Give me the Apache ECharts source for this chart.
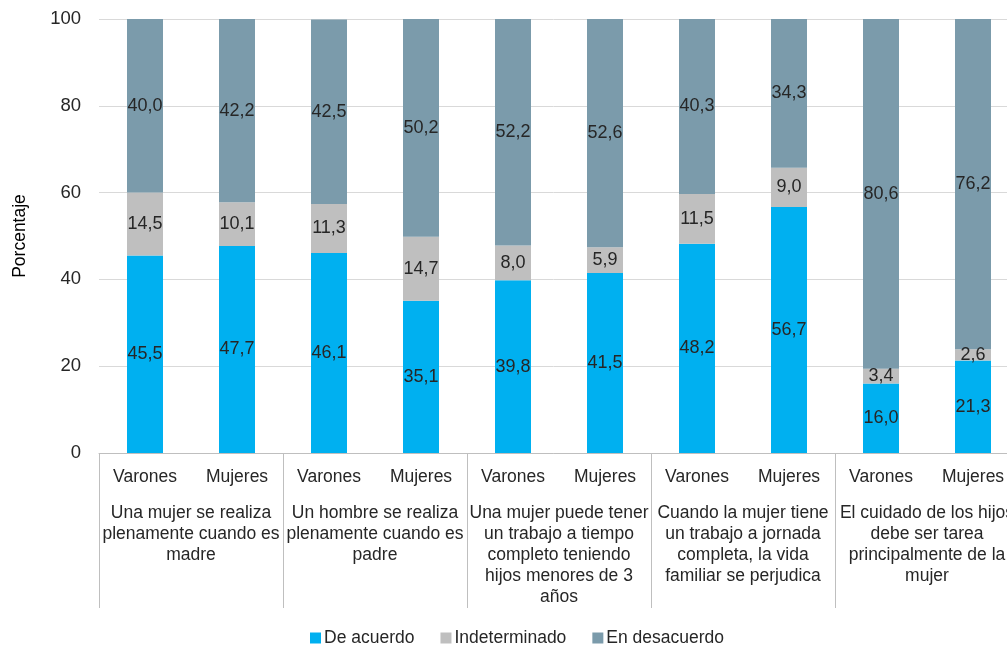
<!DOCTYPE html>
<html>
<head>
<meta charset="utf-8">
<script src="https://cdn.jsdelivr.net/npm/echarts@6/dist/echarts.min.js"></script>
<style>
  html, body { margin: 0; padding: 0; background: #fff; }
  #chart { width: 1007px; height: 646px; }
</style>
</head>
<body>
<div id="chart"></div>
<script>
const sexos = ['Varones', 'Mujeres', 'Varones', 'Mujeres', 'Varones', 'Mujeres', 'Varones', 'Mujeres', 'Varones', 'Mujeres']
const grupos = [
  'Una mujer se realiza\nplenamente cuando es\nmadre',
  'Un hombre se realiza\nplenamente cuando es\npadre',
  'Una mujer puede tener\nun trabajo a tiempo\ncompleto teniendo\nhijos menores de 3\naños',
  'Cuando la mujer tiene\nun trabajo a jornada\ncompleta, la vida\nfamiliar se perjudica',
  'El cuidado de los hijos\ndebe ser tarea\nprincipalmente de la\nmujer'
]
const deAcuerdo = [45.5, 47.7, 46.1, 35.1, 39.8, 41.5, 48.2, 56.7, 16.0, 21.3]
const indeterminado = [14.5, 10.1, 11.3, 14.7, 8.0, 5.9, 11.5, 9.0, 3.4, 2.6]
const enDesacuerdo = [40.0, 42.2, 42.5, 50.2, 52.2, 52.6, 40.3, 34.3, 80.6, 76.2]

const font = 'Liberation Sans, Arial, sans-serif'
const txt = '#262626'

const chart = echarts.init(document.getElementById('chart'))

const barLabel = {
  show: true,
  position: 'inside',
  color: txt,
  fontSize: 18,
  fontFamily: font,
  formatter: p => p.value.toFixed(1).replace('.', ',')
}

const mkSeries = (name, data, color) => ({
  name,
  type: 'bar',
  stack: 'total',
  data,
  barWidth: 36,
  xAxisIndex: 0,
  itemStyle: { color },
  label: barLabel,
  emphasis: { disabled: true }
})

chart.setOption({
  animation: false,
  textStyle: { fontFamily: font },
  // plot runs past the right edge, as in the source
  grid: { left: 99, top: 19, bottom: 193, width: 920, outerBoundsMode: 'none', containLabel: false },
  legend: {
    top: 624,
    left: 305,
    itemWidth: 11,
    itemHeight: 11,
    itemGap: 26,
    icon: 'rect',
    textStyle: { fontSize: 17.5, color: txt, fontFamily: font, padding: [0, 0, 0, -2] },
    data: ['De acuerdo', 'Indeterminado', 'En desacuerdo']
  },
  xAxis: [
    {
      type: 'category',
      data: sexos,
      position: 'bottom',
      axisLine: { show: true, lineStyle: { color: '#BFBFBF' } },
      axisTick: { show: false },
      axisLabel: { interval: 0, margin: 15, fontSize: 17.5, color: txt, fontFamily: font }
    },
    {
      type: 'category',
      data: grupos,
      position: 'bottom',
      axisLine: { show: false },
      axisTick: { show: true, length: 155, interval: 0, inside: false, lineStyle: { color: '#BFBFBF' } },
      axisLabel: {
        interval: 0, margin: 50, fontSize: 17.5, lineHeight: 21,
        color: txt, fontFamily: font, verticalAlign: 'top', align: 'center'
      }
    }
  ],
  yAxis: {
    type: 'value',
    min: 0,
    max: 100,
    interval: 20,
    name: 'Porcentaje',
    nameLocation: 'middle',
    nameGap: 70,
    nameTextStyle: { fontSize: 17.5, color: '#000', fontFamily: font },
    axisLine: { show: false },
    axisTick: { show: false },
    axisLabel: { margin: 18, fontSize: 18.5, color: txt, fontFamily: font },
    splitLine: { lineStyle: { color: '#D9D9D9' } }
  },
  series: [
    mkSeries('De acuerdo', deAcuerdo, '#00B0F0'),
    mkSeries('Indeterminado', indeterminado, '#BFBFBF'),
    mkSeries('En desacuerdo', enDesacuerdo, '#7B9BAB')
  ]
})
</script>
</body>
</html>
